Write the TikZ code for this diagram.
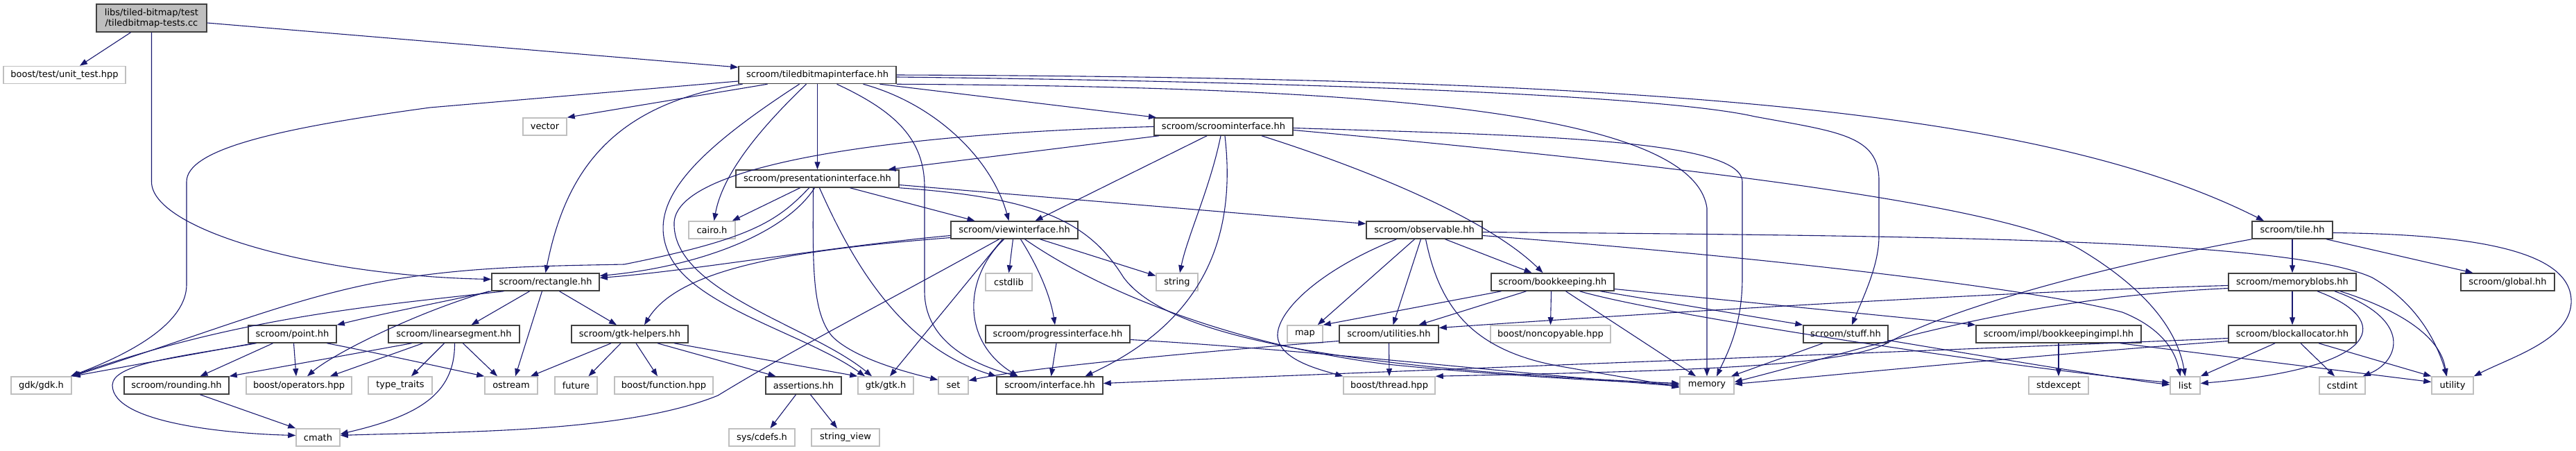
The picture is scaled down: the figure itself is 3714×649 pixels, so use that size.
\documentclass[tikz,border=0pt]{standalone}
\usepackage{fontspec}
\setmainfont{DejaVu Sans}
\usetikzlibrary{arrows.meta}
\definecolor{edgeblue}{HTML}{191970}
\definecolor{greyhi}{HTML}{BFBFBF}
\definecolor{greylo}{HTML}{404040}
\begin{document}
\begin{tikzpicture}[x=1pt,y=-1pt,
  every node/.style={font=\fontsize{13}{15}\selectfont, inner sep=0pt, minimum height=25pt},
  inb/.style={draw=greylo, fill=white, line width=1.5pt},
  exb/.style={draw=greyhi, fill=white, line width=1.5pt},
  rootb/.style={draw=greylo, fill=greyhi, line width=1.5pt, minimum height=40pt, align=center},
  dep/.style={draw=edgeblue, line width=1.1pt, -{Triangle[length=11pt,width=8pt]}}]
\useasboundingbox (0,0) rectangle (3714,649);
% ---------- nodes ----------
\node[rootb, minimum width=159pt] (root) at (218.5,26) {libs/tiled-bitmap/test\\/tiledbitmap-tests.cc};
\node[exb, minimum width=176pt] (unittest) at (93,108) {boost/test/unit\_test.hpp};
\node[inb, minimum width=227pt] (tbi) at (1178.5,108) {scroom/tiledbitmapinterface.hh};
\node[exb, minimum width=63pt] (vector) at (785.5,182.5) {vector};
\node[inb, minimum width=200pt] (scroomi) at (1764,182.5) {scroom/scroominterface.hh};
\node[inb, minimum width=235pt] (presi) at (1178.5,257.5) {scroom/presentationinterface.hh};
\node[exb, minimum width=67pt] (cairo) at (1026.5,331.5) {cairo.h};
\node[inb, minimum width=183pt] (viewi) at (1462.5,331.5) {scroom/viewinterface.hh};
\node[inb, minimum width=167pt] (observable) at (2053.5,331.5) {scroom/observable.hh};
\node[inb, minimum width=116pt] (tile) at (3305,331.5) {scroom/tile.hh};
\node[inb, minimum width=155pt] (rect) at (786.5,406.5) {scroom/rectangle.hh};
\node[exb, minimum width=67pt] (cstdlib) at (1454.5,406.5) {cstdlib};
\node[exb, minimum width=60pt] (string) at (1697,406.5) {string};
\node[inb, minimum width=177pt] (bookkeeping) at (2238.5,406.5) {scroom/bookkeeping.hh};
\node[inb, minimum width=184pt] (memoryblobs) at (3305,406.5) {scroom/memoryblobs.hh};
\node[inb, minimum width=135pt] (global) at (3615.5,406.5) {scroom/global.hh};
\node[inb, minimum width=127pt] (point) at (421.5,481.5) {scroom/point.hh};
\node[inb, minimum width=189pt] (linseg) at (654.5,481.5) {scroom/linearsegment.hh};
\node[inb, minimum width=168pt] (gtkhelpers) at (908,481.5) {scroom/gtk-helpers.hh};
\node[inb, minimum width=208pt] (progress) at (1525,481.5) {scroom/progressinterface.hh};
\node[exb, minimum width=51pt] (map) at (1881.5,481.5) {map};
\node[inb, minimum width=143pt] (utilities) at (2002.5,481.5) {scroom/utilities.hh};
\node[exb, minimum width=173pt] (noncopyable) at (2235.5,481.5) {boost/noncopyable.hpp};
\node[inb, minimum width=122pt] (stuff) at (2661,481.5) {scroom/stuff.hh};
\node[inb, minimum width=238pt] (bkimpl) at (2968,481.5) {scroom/impl/bookkeepingimpl.hh};
\node[inb, minimum width=184pt] (blockalloc) at (3305,481.5) {scroom/blockallocator.hh};
\node[exb, minimum width=87pt] (gdk) at (59.5,555.5) {gdk/gdk.h};
\node[inb, minimum width=151pt] (rounding) at (254.5,555.5) {scroom/rounding.hh};
\node[exb, minimum width=152pt] (operators) at (431,555.5) {boost/operators.hpp};
\node[exb, minimum width=92pt] (typetraits) at (577,555.5) {type\_traits};
\node[exb, minimum width=76pt] (ostream) at (737,555.5) {ostream};
\node[exb, minimum width=61pt] (future) at (830.5,555.5) {future};
\node[exb, minimum width=142pt] (function) at (957,555.5) {boost/function.hpp};
\node[inb, minimum width=109pt] (assertions) at (1158.5,555.5) {assertions.hh};
\node[exb, minimum width=80pt] (gtk) at (1277,555.5) {gtk/gtk.h};
\node[exb, minimum width=43pt] (set) at (1374.5,555.5) {set};
\node[inb, minimum width=153pt] (interface) at (1513.5,555.5) {scroom/interface.hh};
\node[exb, minimum width=132pt] (thread) at (2003,555.5) {boost/thread.hpp};
\node[exb, minimum width=78pt] (memory) at (2461,555.5) {memory};
\node[exb, minimum width=86pt] (stdexcept) at (2968,555.5) {stdexcept};
\node[exb, minimum width=43pt] (list) at (3150.5,555.5) {list};
\node[exb, minimum width=66pt] (cstdint) at (3377,555.5) {cstdint};
\node[exb, minimum width=60pt] (utility) at (3536,555.5) {utility};
\node[exb, minimum width=63pt] (cmath) at (458.5,630.5) {cmath};
\node[exb, minimum width=95pt] (cdefs) at (1098.5,630.5) {sys/cdefs.h};
\node[exb, minimum width=98pt] (stringview) at (1219,630.5) {string\_view};
% ---------- edges: root ----------
\draw[dep] ([xshift=-30pt]root.south) -- ([xshift=22pt]unittest.north);
\draw[dep] ([yshift=-7pt]root.east) -- ([yshift=11pt]tbi.west);
\draw[dep] (root.south) -- (218.5,262) .. controls (218.5,330) and (450,397) .. ([yshift=4pt]rect.west);
% ---------- tiledbitmapinterface ----------
\draw[dep] ([yshift=-9pt]tbi.west) -- (620,155) .. controls (400,185) and (269,215) .. (269,262) -- (269,410) .. controls (269,475) and (160,520) .. ([xshift=-2pt]gdk.north east);
\draw[dep] ([xshift=-72pt]tbi.south) -- (vector.north east);
\draw[dep] ([xshift=-108pt]tbi.south) .. controls (880,150) and (815,250) .. (rect.north);
\draw[dep] ([xshift=-26pt]tbi.south) .. controls (1000,220) and (935,290) .. (962,360) .. controls (990,440) and (1160,480) .. ([xshift=-30pt]gtk.north);
\draw[dep] ([xshift=-16pt]tbi.south) .. controls (1080,200) and (1040,260) .. ([xshift=3pt]cairo.north);
\draw[dep] (tbi.south) -- (presi.north);
\draw[dep] ([xshift=28pt]tbi.south) .. controls (1290,160) and (1333,200) .. (1333,270) -- (1333,420) .. controls (1333,500) and (1420,530) .. ([xshift=-46pt]interface.north);
\draw[dep] ([xshift=66pt]tbi.south) .. controls (1350,150) and (1430,230) .. ([xshift=-8pt]viewi.north);
\draw[dep] ([xshift=90pt]tbi.south) -- ([xshift=-97pt]scroomi.north);
\draw[dep] (tbi.east) .. controls (2400,112) and (2950,160) .. ([xshift=-41pt]tile.north);
\draw[dep] ([yshift=-3pt]tbi.east) .. controls (1900,118) and (2400,138) .. (2530,168) .. controls (2650,190) and (2709,195) .. (2709,260) -- (2709,340) .. controls (2709,380) and (2690,420) .. ([xshift=9pt]stuff.north);
\draw[dep] (tbi.south east) .. controls (1900,125) and (2440,150) .. (2461,300) -- (memory.north);
% ---------- scroominterface ----------
\draw[dep] ([xshift=-93pt]scroomi.south) -- ([xshift=102pt]presi.north);
\draw[dep] ([xshift=-24pt]scroomi.south) -- ([xshift=30pt]viewi.north);
\draw[dep] ([xshift=-4pt]scroomi.south) .. controls (1745,270) and (1712,340) .. ([xshift=4pt]string.north);
\draw[dep] ([xshift=2pt]scroomi.south) .. controls (1785,360) and (1720,470) .. ([xshift=51pt]interface.north);
\draw[dep] ([xshift=55pt]scroomi.south) .. controls (1990,250) and (2150,320) .. ([xshift=-14pt]bookkeeping.north);
\draw[dep] ([yshift=-2pt]scroomi.east) .. controls (2200,195) and (2512,200) .. (2512,262) -- (2512,400) .. controls (2512,470) and (2490,510) .. ([xshift=14pt]memory.north);
\draw[dep] ([yshift=-5pt]scroomi.east) .. controls (2500,245) and (2900,300) .. (3000,360) .. controls (3100,420) and (3140,480) .. ([xshift=0pt]list.north);
\draw[dep] (scroomi.west) .. controls (1300,192) and (978,235) .. (972,320) .. controls (968,420) and (1170,470) .. ([xshift=-20pt]gtk.north);
% ---------- presentationinterface ----------
\draw[dep] ([xshift=-25pt]presi.south) -- ([xshift=-5pt]cairo.north east);
\draw[dep] ([xshift=-12pt]presi.south) .. controls (1120,320) and (1080,345) .. (900,381) .. controls (800,383) and (700,384) .. (600,398) .. controls (450,418) and (330,470) .. ([xshift=1pt]gdk.north east);
\draw[dep] ([xshift=-4pt]presi.south) .. controls (1130,340) and (1000,385) .. ([yshift=9pt]rect.east);
\draw[dep] ([xshift=-6pt]presi.south) .. controls (1172,380) and (1170,450) .. (1200,485) .. controls (1230,515) and (1300,535) .. ([yshift=8pt]set.west);
\draw[dep] ([xshift=3pt]presi.south) .. controls (1230,380) and (1300,500) .. (interface.north west);
\draw[dep] ([xshift=47pt]presi.south) -- ([xshift=-57pt]viewi.north);
\draw[dep] ([yshift=-9pt]presi.east) -- ([yshift=9pt]observable.west);
\draw[dep] (presi.south east) .. controls (1500,285) and (1570,320) .. (1620,400) .. controls (1680,480) and (1900,530) .. ([yshift=3pt]memory.west);
% ---------- viewinterface ----------
\draw[dep] ([yshift=-8pt]viewi.west) .. controls (1200,355) and (1000,390) .. ([yshift=6pt]rect.east);
\draw[dep] ([yshift=-11pt]viewi.west) .. controls (1150,360) and (980,385) .. ([xshift=21pt]gtkhelpers.north);
\draw[dep] ([xshift=-22pt]viewi.south) .. controls (1250,450) and (1150,500) .. (1035,570) .. controls (900,625) and (650,622) .. ([yshift=3pt]cmath.east);
\draw[dep] ([xshift=-17pt]viewi.south) -- ([xshift=6pt]gtk.north);
\draw[dep] ([xshift=-15pt]viewi.south) .. controls (1390,400) and (1385,490) .. ([xshift=-46pt]interface.north);
\draw[dep] ([xshift=-2pt]viewi.south) -- (cstdlib.north);
\draw[dep] ([xshift=9pt]viewi.south) .. controls (1500,390) and (1515,430) .. ([xshift=-4pt]progress.north);
\draw[dep] ([xshift=15pt]viewi.south) .. controls (1600,430) and (1800,500) .. (2000,525) .. controls (2200,545) and (2350,550) .. ([yshift=1pt]memory.west);
\draw[dep] ([xshift=37pt]viewi.south) -- ([yshift=9pt]string.west);
% ---------- progressinterface ----------
\draw[dep] ([xshift=-2pt]progress.south) -- ([xshift=2pt]interface.north);
\draw[dep] ([yshift=-8pt]progress.east) .. controls (1900,505) and (2200,540) .. ([yshift=-1pt]memory.west);
% ---------- observable ----------
\draw[dep] ([xshift=-40pt]observable.south) .. controls (1900,390) and (1840,450) .. (1842,485) .. controls (1845,518) and (1900,532) .. (thread.north west);
\draw[dep] ([xshift=-14pt]observable.south) -- ([xshift=-8pt]map.north east);
\draw[dep] ([xshift=-5pt]observable.south) -- ([xshift=6pt]utilities.north);
\draw[dep] ([xshift=2pt]observable.south) .. controls (2075,440) and (2120,505) .. (2250,528) .. controls (2330,542) and (2380,550) .. ([yshift=-3pt]memory.west);
\draw[dep] ([xshift=30pt]observable.south) -- ([xshift=-30pt]bookkeeping.north);
\draw[dep] ([yshift=-3pt]observable.east) .. controls (2800,340) and (3300,345) .. (3420,400) .. controls (3490,440) and (3515,500) .. ([xshift=-8pt]utility.north);
\draw[dep] ([yshift=-8pt]observable.east) .. controls (2600,375) and (2950,420) .. (3060,450) .. controls (3110,470) and (3135,500) .. ([xshift=-7pt]list.north);
% ---------- bookkeeping ----------
\draw[dep] ([xshift=-74pt]bookkeeping.south) -- (map.north east);
\draw[dep] ([xshift=-38pt]bookkeeping.south) -- ([xshift=43pt]utilities.north);
\draw[dep] ([xshift=-2pt]bookkeeping.south) -- (noncopyable.north);
\draw[dep] ([xshift=19pt]bookkeeping.south) -- ([xshift=-16pt]memory.north);
\draw[dep] ([xshift=39pt]bookkeeping.south) .. controls (2400,455) and (2900,530) .. ([yshift=4pt]list.west);
\draw[dep] ([xshift=69pt]bookkeeping.south) -- (stuff.north west);
\draw[dep] ([yshift=-10pt]bookkeeping.east) -- (bkimpl.north west);
% ---------- stuff / bookkeepingimpl ----------
\draw[dep] ([xshift=-33pt]stuff.south) -- ([xshift=35pt]memory.north);
\draw[dep] ([yshift=-9pt]stuff.east) .. controls (2900,520) and (3050,545) .. ([yshift=1pt]list.west);
\draw[dep] (bkimpl.south) -- (stdexcept.north);
\draw[dep] ([xshift=89pt]bkimpl.south) -- ([yshift=5pt]utility.west);
% ---------- tile ----------
\draw[dep] (tile.south) -- (memoryblobs.north);
\draw[dep] ([xshift=49pt]tile.south) -- ([xshift=-50pt]global.north);
\draw[dep] ([yshift=-4pt]tile.east) .. controls (3600,338) and (3710,370) .. (3707,437) .. controls (3704,490) and (3620,515) .. (utility.north east);
\draw[dep] (tile.south west) .. controls (3000,390) and (2800,450) .. (2720,495) .. controls (2650,530) and (2400,535) .. (thread.north east);
% ---------- memoryblobs ----------
\draw[dep] (memoryblobs.south) -- (blockalloc.north);
\draw[dep] ([xshift=36pt]memoryblobs.south) .. controls (3450,460) and (3440,530) .. ([yshift=3pt]list.east);
\draw[dep] ([xshift=61pt]memoryblobs.south) .. controls (3480,460) and (3460,520) .. ([xshift=-4pt]cstdint.north east);
\draw[dep] ([xshift=69pt]memoryblobs.south) .. controls (3470,450) and (3520,490) .. ([xshift=-9pt]utility.north);
\draw[dep] ([yshift=-5pt]memoryblobs.west) .. controls (2900,420) and (2400,450) .. ([yshift=9pt]utilities.east);
\draw[dep] ([yshift=-9pt]memoryblobs.west) .. controls (2900,430) and (2700,500) .. ([yshift=5pt]memory.east);
% ---------- blockallocator ----------
\draw[dep] ([xshift=-25pt]blockalloc.south) -- (list.north east);
\draw[dep] ([xshift=12pt]blockalloc.south) -- ([xshift=-11pt]cstdint.north);
\draw[dep] ([xshift=38pt]blockalloc.south) -- (utility.north west);
\draw[dep] ([yshift=-6pt]blockalloc.west) .. controls (2800,505) and (2000,535) .. ([yshift=3pt]interface.east);
\draw[dep] ([yshift=-10pt]blockalloc.west) .. controls (2900,515) and (2650,540) .. ([yshift=2pt]memory.east);
% ---------- utilities ----------
\draw[dep] (utilities.south) -- (thread.north);
\draw[dep] ([yshift=-10pt]utilities.west) .. controls (1750,505) and (1480,530) .. ([yshift=7pt]set.east);
% ---------- rectangle ----------
\draw[dep] ([xshift=-60pt]rect.south) .. controls (550,440) and (350,455) .. ([xshift=-1pt]gdk.north east);
\draw[dep] (rect.south west) .. controls (640,435) and (560,450) .. (point.north east);
\draw[dep] ([xshift=-3pt]rect.south west) .. controls (600,450) and (480,510) .. ([xshift=12pt]operators.north);
\draw[dep] ([xshift=-23pt]rect.south) -- ([xshift=25pt]linseg.north);
\draw[dep] ([xshift=-5pt]rect.south) -- ([xshift=6pt]ostream.north);
\draw[dep] ([xshift=20pt]rect.south) -- ([xshift=-19pt]gtkhelpers.north);
% ---------- point ----------
\draw[dep] ([xshift=-56pt]point.south) -- ([xshift=1pt]gdk.north east);
\draw[dep] ([xshift=-28pt]point.south) -- ([xshift=34pt]rounding.north);
\draw[dep] ([xshift=2pt]point.south) -- ([xshift=-4pt]operators.north);
\draw[dep] ([xshift=-52pt]point.south) .. controls (250,515) and (163,525) .. (162,555) .. controls (162,610) and (330,625) .. ([yshift=3pt]cmath.west);
\draw[dep] ([xshift=50pt]point.south) .. controls (560,512) and (640,530) .. (ostream.north west);
% ---------- linearsegment ----------
\draw[dep] ([xshift=-61pt]linseg.south) -- (rounding.north east);
\draw[dep] ([xshift=-45pt]linseg.south) -- ([xshift=45pt]operators.north);
\draw[dep] ([xshift=-14pt]linseg.south) -- ([xshift=16pt]typetraits.north);
\draw[dep] ([xshift=1pt]linseg.south) .. controls (656,570) and (600,600) .. ([yshift=5pt]cmath.east);
\draw[dep] ([xshift=13pt]linseg.south) -- ([xshift=-20pt]ostream.north);
% ---------- gtk-helpers ----------
\draw[dep] ([xshift=-27pt]gtkhelpers.south) -- ([xshift=28pt]ostream.north);
\draw[dep] ([xshift=-13pt]gtkhelpers.south) -- ([xshift=18pt]future.north);
\draw[dep] ([xshift=9pt]gtkhelpers.south) -- ([xshift=-9pt]function.north);
\draw[dep] ([xshift=40pt]gtkhelpers.south) -- ([xshift=-40pt]assertions.north);
\draw[dep] ([xshift=64pt]gtkhelpers.south) -- (gtk.north west);
% ---------- assertions / rounding ----------
\draw[dep] ([xshift=-11pt]assertions.south) -- ([xshift=12pt]cdefs.north);
\draw[dep] ([xshift=10pt]assertions.south) -- ([xshift=-12pt]stringview.north);
\draw[dep] ([xshift=34pt]rounding.south) -- (cmath.north west);
\end{tikzpicture}
\end{document}
